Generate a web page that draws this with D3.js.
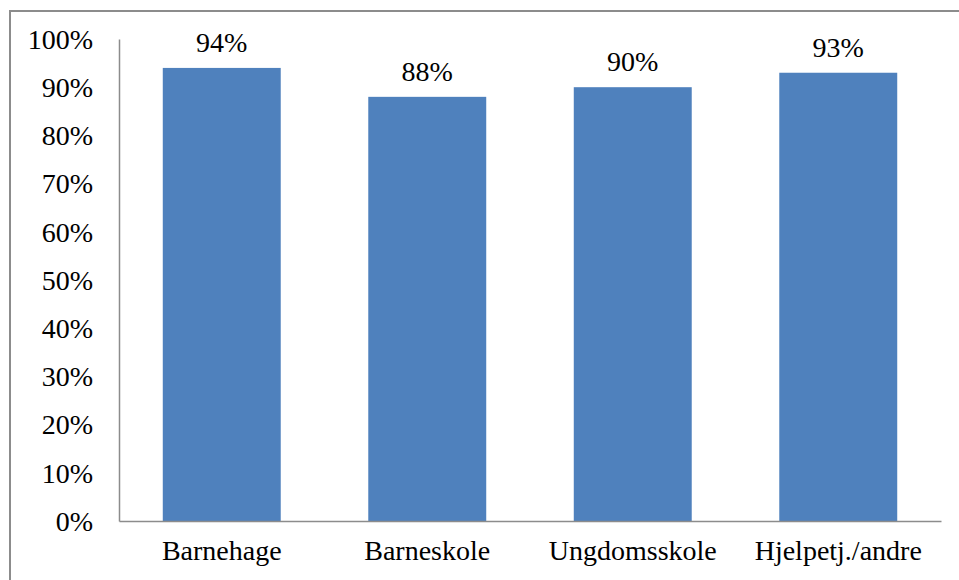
<!DOCTYPE html>
<html>
<head>
<meta charset="utf-8">
<script src="https://cdn.jsdelivr.net/npm/d3@7"></script>
<style>
  html, body { margin: 0; padding: 0; background: #fff; }
  svg { display: block; }
  text { font-family: "Liberation Serif", "Times New Roman", serif; fill: #000; }
</style>
</head>
<body>
<svg id="chart" width="959" height="580"></svg>
<script>
// Share per category (percent)
const categories = ["Barnehage", "Barneskole", "Ungdomsskole", "Hjelpetj./andre"];
const values = [94, 88, 90, 93];
const yTicks = [0, 10, 20, 30, 40, 50, 60, 70, 80, 90, 100];

const svg = d3.select("#chart");
const W = 959, H = 580;
const margin = { left: 119, right: 18, top: 39, bottom: 59 };
const fontSize = 28;

// Outer frame (right and bottom edges fall off the canvas)
svg.append("rect")
  .attr("x", 10).attr("y", 11)
  .attr("width", W).attr("height", H)
  .attr("fill", "none")
  .attr("stroke", "#8c8c8c")
  .attr("stroke-width", 2);

const x = d3.scaleBand()
  .domain(categories)
  .range([margin.left, W - margin.right])
  .paddingInner(0.426)
  .paddingOuter(0.213);

const y = d3.scaleLinear()
  .domain([0, 100])
  .range([H - margin.bottom, margin.top]);

// Bars
svg.append("g").selectAll("rect")
  .data(values)
  .join("rect")
  .attr("x", (d, i) => x(categories[i]))
  .attr("y", d => y(d))
  .attr("width", x.bandwidth())
  .attr("height", d => y(0) - y(d))
  .attr("fill", "#4f81bd");

// Value labels
svg.append("g").selectAll("text")
  .data(values)
  .join("text")
  .attr("x", (d, i) => x(categories[i]) + x.bandwidth() / 2)
  .attr("y", d => y(d) - 16)
  .attr("text-anchor", "middle")
  .attr("font-size", fontSize)
  .text(d => d + "%");

// Y axis
const yAxis = d3.axisLeft(y)
  .tickValues(yTicks)
  .tickSize(0)
  .tickPadding(26)
  .tickFormat(d => d + "%");
const gy = svg.append("g")
  .attr("transform", `translate(${margin.left},0)`)
  .call(yAxis);
gy.select(".domain").attr("stroke", "#8c8c8c").attr("stroke-width", 1.5);
gy.selectAll("text")
  .attr("font-size", fontSize)
  .attr("font-family", "Liberation Serif, Times New Roman, serif")
  .attr("fill", "#000")
  .attr("dy", "0.33em");

// X axis
const xAxis = d3.axisBottom(x).tickSize(0).tickPadding(19);
const gx = svg.append("g")
  .attr("transform", `translate(0,${y(0)})`)
  .call(xAxis);
gx.select(".domain").attr("stroke", "#8c8c8c").attr("stroke-width", 1.5);
gx.selectAll("text")
  .attr("font-size", fontSize)
  .attr("font-family", "Liberation Serif, Times New Roman, serif")
  .attr("fill", "#000")
  .attr("dy", "0.71em");
</script>
</body>
</html>
